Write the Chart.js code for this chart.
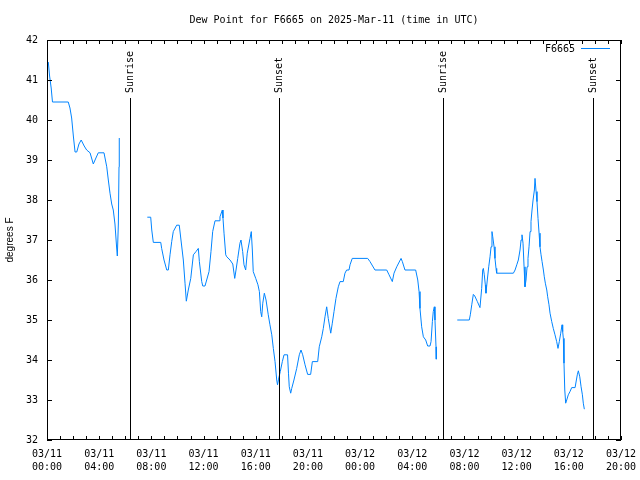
<!DOCTYPE html>
<html>
<head>
<meta charset="utf-8">
<script src="https://cdn.jsdelivr.net/npm/chart.js@4"></script>
<style>
  html, body { margin: 0; padding: 0; background: #fff; }
  #wrap { width: 640px; height: 480px; }
</style>
</head>
<body>
<div id="wrap"><canvas id="dew"></canvas></div>
<script>
// hours since 2025-03-11 00:00 UTC, null = gap in the record
const hours = [
  0.10, 0.20, 0.32, 0.42, 1.63, 1.76, 1.89, 2.02, 2.15, 2.28, 2.45, 2.62, 2.85, 3.04, 3.30, 3.55, 3.75, 3.93,
  4.37, 4.58, 4.70, 4.83, 4.96, 5.08, 5.21, 5.34, 5.39, 5.47, 5.52, 5.54,
  6.6,
  7.69, 7.95, 8.03, 8.15, 8.72, 8.79, 8.97, 9.18, 9.30, 9.43, 9.56, 9.68, 9.94, 10.14, 10.27, 10.45, 10.58,
  10.68, 10.83, 11.02, 11.22, 11.42, 11.60, 11.68, 11.86, 11.94, 12.11, 12.24, 12.42, 12.57, 12.70, 12.88,
  13.19, 13.26, 13.44, 13.49, 13.57, 13.70, 13.78, 14.03, 14.24, 14.39, 14.49, 14.62, 14.79, 14.87, 15.00,
  15.10, 15.23, 15.35, 15.56, 15.66, 15.74, 15.81, 16.00, 16.17, 16.28, 16.38, 16.46, 16.54, 16.66, 16.79,
  16.96, 17.09, 17.23, 17.35, 17.48, 17.61, 17.67, 17.75, 17.88, 18.04, 18.17, 18.44, 18.51, 18.57, 18.68,
  18.76, 18.93, 19.14, 19.34, 19.47, 19.60, 19.78, 19.98, 20.21, 20.34, 20.75, 20.87, 21.06, 21.18, 21.31,
  21.44, 21.56, 21.75, 21.87, 22.00, 22.15, 22.33, 22.46, 22.71, 22.84, 22.97, 23.15, 23.23, 23.40, 24.58,
  24.76, 25.14, 26.04, 26.22, 26.47, 26.60, 26.81, 27.14, 27.24, 27.44, 28.26, 28.42, 28.52, 28.59, 28.72,
  28.85, 29.03, 29.18, 29.36, 29.44, 29.54, 29.61, 29.69, 29.74, 29.82, 29.84,
  30.6,
  31.45, 32.37, 32.45, 32.56, 32.68, 32.79, 32.99, 33.19, 33.32, 33.40, 33.45, 33.52, 33.60, 33.65, 33.75,
  33.86, 33.96, 34.04, 34.11, 34.17, 34.27, 34.34, 34.42, 34.47, 35.75, 35.88, 36.01, 36.13, 36.26, 36.34,
  36.41, 36.49, 36.57, 36.64, 36.72, 36.80, 36.87, 36.95, 37.03, 37.10, 37.18, 37.26, 37.36, 37.41, 37.49,
  37.56, 37.64, 37.72, 37.79, 37.87, 37.95, 38.05, 38.12, 38.20, 38.31, 38.38, 38.48, 38.56, 38.69, 38.81,
  38.94, 39.07, 39.17, 39.27, 39.38, 39.48, 39.53, 39.58, 39.63, 39.69, 39.76, 39.84, 39.96, 40.09, 40.22,
  40.48, 40.58, 40.65, 40.73, 40.84, 40.94, 41.04, 41.11, 41.19
];
const dewPoint = [
  41.45, 41.1, 40.8, 40.45, 40.45, 40.3, 40.05, 39.6, 39.2, 39.2, 39.4, 39.5, 39.35, 39.25, 39.18, 38.9, 39.05, 39.18,
  39.18, 38.83, 38.5, 38.17, 37.9, 37.75, 37.4, 36.8, 36.6, 37.4, 38.83, 39.55,
  null,
  37.57, 37.57, 37.25, 36.94, 36.94, 36.79, 36.5, 36.25, 36.25, 36.63, 36.96, 37.21, 37.37, 37.37, 37.0, 36.5, 35.92,
  35.47, 35.75, 36.04, 36.63, 36.71, 36.79, 36.46, 35.96, 35.85, 35.85, 36.0, 36.21, 36.71, 37.21, 37.48,
  37.48, 37.58, 37.75, 37.55, 37.17, 36.63, 36.58, 36.5, 36.4, 36.04, 36.25, 36.54, 36.92, 37.0, 36.71,
  36.38, 36.25, 36.67, 37.04, 37.21, 36.75, 36.21, 36.04, 35.88, 35.71, 35.21, 35.08, 35.42, 35.67, 35.5,
  35.13, 34.88, 34.63, 34.29, 33.96, 33.5, 33.38, 33.52, 33.71, 33.96, 34.13, 34.13, 33.67, 33.33, 33.17,
  33.29, 33.5, 33.79, 34.13, 34.25, 34.13, 33.88, 33.64, 33.64, 33.96, 33.96, 34.33, 34.58, 34.79, 35.08,
  35.33, 35.04, 34.67, 34.92, 35.21, 35.54, 35.83, 35.96, 35.96, 36.17, 36.25, 36.25, 36.38, 36.54, 36.54,
  36.46, 36.25, 36.25, 36.13, 35.96, 36.17, 36.33, 36.54, 36.46, 36.25, 36.25, 36.0, 35.71, 35.29, 34.83,
  34.58, 34.5, 34.35, 34.35, 34.46, 34.96, 35.21, 35.33, 35.0, 34.33, 34.02,
  null,
  35.0, 35.0, 35.13, 35.38, 35.64, 35.6, 35.46, 35.31, 35.79, 36.25, 36.29, 36.13, 35.88, 35.67, 36.0,
  36.33, 36.58, 36.83, 37.21, 37.08, 36.83, 36.54, 36.29, 36.17, 36.17, 36.25, 36.38, 36.5, 36.75, 37.0,
  37.13, 36.92, 36.33, 35.83, 36.0, 36.33, 36.54, 36.83, 37.21, 37.46, 37.75, 38.0, 38.25, 38.54, 38.21,
  37.96, 37.54, 37.17, 36.83, 36.63, 36.46, 36.25, 36.08, 35.92, 35.75, 35.58, 35.38, 35.17, 34.96, 34.79,
  34.63, 34.46, 34.29, 34.46, 34.67, 34.88, 34.71, 34.54, 33.92, 33.25, 32.92, 33.0, 33.13, 33.21, 33.31,
  33.31, 33.5, 33.63, 33.73, 33.58, 33.33, 33.13, 32.92, 32.77
];

const xTickHours = [0, 4, 8, 12, 16, 20, 24, 28, 32, 36, 40, 44];
const xTickLabels = [
  ['03/11', '00:00'], ['03/11', '04:00'], ['03/11', '08:00'], ['03/11', '12:00'],
  ['03/11', '16:00'], ['03/11', '20:00'], ['03/12', '00:00'], ['03/12', '04:00'],
  ['03/12', '08:00'], ['03/12', '12:00'], ['03/12', '16:00'], ['03/12', '20:00']
];
const sunHours = [6.36, 17.78, 30.36, 41.84];
const sunLabels = ['Sunrise', 'Sunset', 'Sunrise', 'Sunset'];

const lineColor = 'rgb(0,132,255)';
const mono = 'DejaVu Sans Mono';

// frame, inward ticks, sun lines, title and key, gnuplot style
const gnuplotBits = {
  id: 'gnuplotBits',
  afterDatasetsDraw(chart) {
    const {ctx, chartArea: a, scales: {x, y}} = chart;
    ctx.save();
    ctx.strokeStyle = '#000';
    ctx.lineWidth = 1;
    ctx.strokeRect(a.left + 0.5, a.top + 0.5, a.right - a.left - 1, a.bottom - a.top - 1);

    ctx.beginPath();
    for (let h = 0; h <= 44; h++) {
      const px = Math.round(x.getPixelForValue(h)) + 0.5;
      ctx.moveTo(px, a.bottom); ctx.lineTo(px, a.bottom - 4);
      ctx.moveTo(px, a.top); ctx.lineTo(px, a.top + 4);
    }
    for (let v = 32; v <= 42; v++) {
      const py = Math.round(y.getPixelForValue(v)) + 0.5;
      ctx.moveTo(a.left, py); ctx.lineTo(a.left + 5, py);
      ctx.moveTo(a.right, py); ctx.lineTo(a.right - 5, py);
    }
    ctx.stroke();

    ctx.fillStyle = '#000';
    ctx.font = '10px "' + mono + '"';
    sunHours.forEach((h, i) => {
      const px = Math.round(x.getPixelForValue(h)) + 0.5;
      ctx.beginPath();
      ctx.moveTo(px, 98); ctx.lineTo(px, a.bottom);
      ctx.stroke();
      ctx.save();
      ctx.translate(px, 93);
      ctx.rotate(-Math.PI / 2);
      ctx.textAlign = 'left';
      ctx.textBaseline = 'middle';
      ctx.fillText(sunLabels[i], 0, 0);
      ctx.restore();
    });

    ctx.textBaseline = 'middle';
    ctx.textAlign = 'center';
    ctx.fillText('Dew Point for F6665 on 2025-Mar-11 (time in UTC)', (a.left + a.right) / 2, 20);

    ctx.textAlign = 'right';
    ctx.fillText('F6665', 575, 49);
    ctx.strokeStyle = lineColor;
    ctx.beginPath();
    ctx.moveTo(581, 48.5); ctx.lineTo(610, 48.5);
    ctx.stroke();
    ctx.restore();
  }
};

const canvas = document.getElementById('dew');
const graficoDew = new Chart(canvas, {
  type: 'line',
  data: {
    datasets: [
      {
        label: 'F6665',
        data: hours.map((h, i) => ({x: h, y: dewPoint[i]})),
        borderColor: lineColor,
        backgroundColor: lineColor,
        borderWidth: 1,
        pointRadius: 0,
        tension: 0,
        spanGaps: false
      }
    ]
  },
  options: {
    responsive: true,
    maintainAspectRatio: false,
    animation: false,
    layout: { padding: { top: 40, right: 19, left: 0, bottom: 0 } },
    plugins: { legend: { display: false }, title: { display: false }, tooltip: { enabled: false } },
    scales: {
      x: {
        type: 'linear',
        min: 0,
        max: 44,
        grid: { display: false, drawTicks: false },
        border: { display: false },
        afterBuildTicks: (s) => { s.ticks = xTickHours.map(v => ({value: v})); },
        afterFit: (s) => { s.height = 40; s.paddingLeft = 0; s.paddingRight = 0; },
        ticks: {
          autoSkip: false,
          maxRotation: 0,
          padding: 8,
          color: '#000',
          font: { family: mono, size: 10, lineHeight: 1.3 },
          callback: (v) => xTickLabels[xTickHours.indexOf(v)]
        }
      },
      y: {
        min: 32,
        max: 42,
        grid: { display: false, drawTicks: false },
        border: { display: false },
        afterFit: (s) => { s.width = 47; s.paddingTop = 0; s.paddingBottom = 0; },
        ticks: {
          stepSize: 1,
          padding: 9,
          color: '#000',
          font: { family: mono, size: 10 }
        },
        title: {
          display: true,
          text: 'degrees F',
          color: '#000',
          font: { family: 'Liberation Sans', size: 10 },
          padding: { top: 4, bottom: 4 }
        }
      }
    }
  },
  plugins: [gnuplotBits]
});
</script>
</body>
</html>
